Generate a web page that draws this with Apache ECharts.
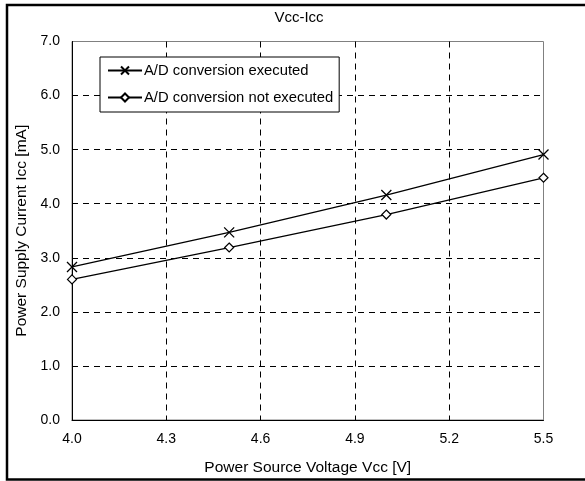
<!DOCTYPE html>
<html>
<head>
<meta charset="utf-8">
<script src="https://cdn.jsdelivr.net/npm/echarts@6/dist/echarts.min.js"></script>
<style>
  html, body { margin: 0; padding: 0; background: #fff; }
  #chart { width: 585px; height: 481px; }
</style>
</head>
<body>
<div id="chart"></div>
<script>
// Supply voltage (V) and measured supply current (mA)
const vcc = [4.0, 4.5, 5.0, 5.5];
const iccAdExecuted = [2.83, 3.47, 4.16, 4.91];
const iccAdNotExecuted = [2.60, 3.19, 3.80, 4.48];
const seriesNames = ['A/D conversion executed', 'A/D conversion not executed'];

const FONT = '"Liberation Sans", Arial, sans-serif';

const chart = echarts.init(document.getElementById('chart'), null, { renderer: 'canvas' });

const pairs = (xs, ys) => xs.map((x, i) => [x, ys[i]]);

const dashed = { show: true, showMinLine: false, showMaxLine: false,
  lineStyle: { color: '#000', type: [6, 5], width: 1 } };

chart.setOption({
  animation: false,
  backgroundColor: '#fff',
  textStyle: { fontFamily: FONT },
  title: {
    text: 'Vcc-Icc',
    left: 294,
    textAlign: 'center',
    top: 5,
    textStyle: { fontFamily: FONT, fontSize: 15, fontWeight: 'normal', color: '#000' }
  },
  grid: {
    left: 72, right: 41.5, top: 41.5, bottom: 60,
    show: true, borderColor: '#808080', borderWidth: 1
  },
  legend: {
    left: 100, top: 57,
    orient: 'vertical',
    data: seriesNames,
    backgroundColor: '#fff',
    borderColor: '#000', borderWidth: 1,
    padding: [6, 6, 7, 7],
    itemGap: 12,
    itemWidth: 34, itemHeight: 10,
    textStyle: { fontFamily: FONT, fontSize: 14.8, color: '#000', padding: [0, 0, 0, -3] }
  },
  xAxis: {
    type: 'value',
    min: 4.0, max: 5.5, interval: 0.3,
    name: 'Power Source Voltage Vcc [V]',
    nameLocation: 'middle', nameGap: 40,
    nameTextStyle: { fontFamily: FONT, fontSize: 15.5, color: '#000' },
    axisLine: { show: true, onZero: false, lineStyle: { color: '#000', width: 1 } },
    axisTick: { show: false },
    axisLabel: {
      fontFamily: FONT, fontSize: 14, color: '#000', margin: 12,
      formatter: v => v.toFixed(1)
    },
    splitLine: dashed
  },
  yAxis: {
    type: 'value',
    min: 0, max: 7, interval: 1,
    name: 'Power Supply Current Icc [mA]',
    nameLocation: 'middle', nameGap: 42,
    nameTextStyle: { fontFamily: FONT, fontSize: 15.5, color: '#000' },
    axisLine: { show: true, lineStyle: { color: '#000', width: 1 } },
    axisTick: { show: false },
    axisLabel: {
      fontFamily: FONT, fontSize: 14, color: '#000', margin: 12,
      formatter: v => v.toFixed(1)
    },
    splitLine: dashed
  },
  series: [
    {
      name: seriesNames[0],
      type: 'line',
      data: pairs(vcc, iccAdExecuted),
      symbol: 'path://M0,0L10,10M10,0L0,10',
      symbolSize: 10,
      lineStyle: { color: '#000', width: 1.3 },
      itemStyle: { color: '#000', borderColor: '#000', borderWidth: 1.3 },
      z: 3
    },
    {
      name: seriesNames[1],
      type: 'line',
      data: pairs(vcc, iccAdNotExecuted),
      symbol: 'path://M5,0L10,5L5,10L0,5Z',
      symbolSize: 9,
      lineStyle: { color: '#000', width: 1.3 },
      itemStyle: { color: '#fff', borderColor: '#000', borderWidth: 1.2 },
      z: 3
    }
  ],
  graphic: [
    {
      type: 'rect',
      shape: { x: 7, y: 5, width: 600, height: 474.5 },
      style: { fill: 'none', stroke: '#000', lineWidth: 2.5 },
      silent: true,
      z: 100
    }
  ]
});
</script>
</body>
</html>
